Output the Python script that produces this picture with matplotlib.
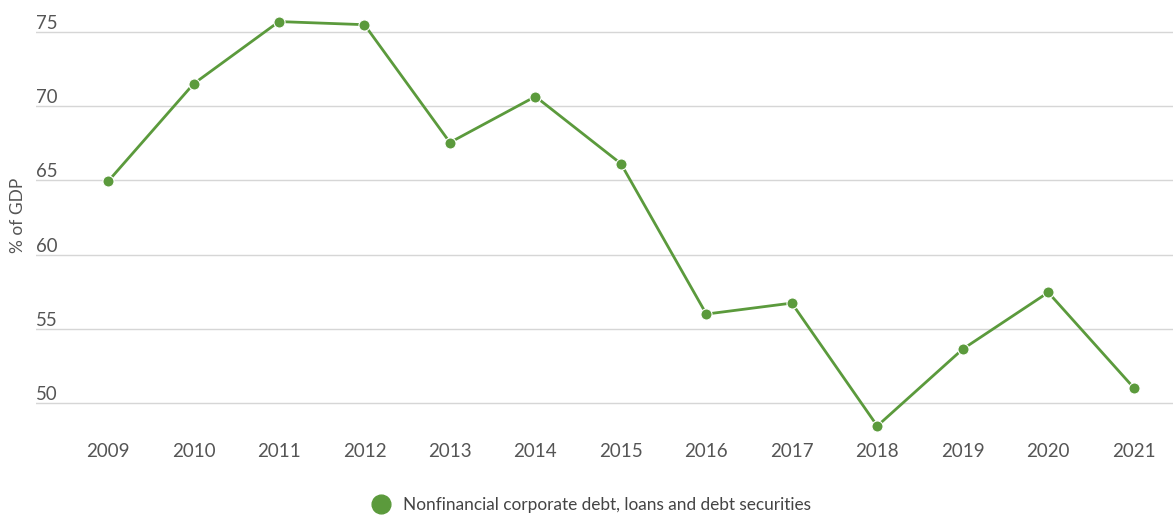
import matplotlib.pyplot as plt
import numpy as np

# data
years = [2009, 2010, 2011, 2012, 2013, 2014, 2015, 2016, 2017, 2018, 2019, 2020, 2021]
debt_pct_gdp = [64.93, 71.5, 75.7, 75.49, 67.55, 70.65, 66.13, 55.99, 56.73, 48.45, 53.63, 57.45, 51.03]
y_ticks = [50, 55, 60, 65, 70, 75]
series_name = 'Nonfinancial corporate debt, loans and debt securities'

plt.rcParams['font.family'] = ['Lato', 'DejaVu Sans']

green = '#5b9a3c'
text_gray = '#555555'

fig = plt.figure(figsize=(11.73, 5.16), dpi=100)
ax = fig.add_axes([36 / 1173, 0.1558, 1 - 36 / 1173, 0.8254])

ax.plot(years, debt_pct_gdp, color=green, linewidth=2.0, marker='o', markersize=8,
        markerfacecolor=green, markeredgecolor='white', markeredgewidth=0.8,
        label=series_name, zorder=3)

ax.set_xlim(2008.157, 2021.46)
ax.set_ylim(47.8, 76.5)
ax.set_xticks(years)
ax.set_yticks(y_ticks)
ax.grid(axis='y', color='#d6d6d6', linewidth=1)
ax.set_axisbelow(True)
for s in ax.spines.values():
    s.set_visible(False)

ax.tick_params(axis='x', length=0, pad=5.3, labelsize=13.5, labelcolor=text_gray)
ax.tick_params(axis='y', length=0, pad=0, labelsize=13.4, labelcolor=text_gray)
for lab in ax.get_yticklabels():
    lab.set_horizontalalignment('left')
    lab.set_verticalalignment('bottom')

fig.text(18 / 1173, 1 - 215 / 516, '% of GDP', rotation=90, ha='center', va='center',
         fontsize=12.5, color=text_gray)

leg_handle = plt.Line2D([], [], color=green, marker='o', linestyle='none', markersize=13.5)
fig.legend([leg_handle], [series_name], loc='center', bbox_to_anchor=(0.501, 1 - 505 / 516),
           frameon=False, fontsize=12.4, labelcolor='#444444', handletextpad=0.3)

fig.savefig('out.png', dpi=100)
